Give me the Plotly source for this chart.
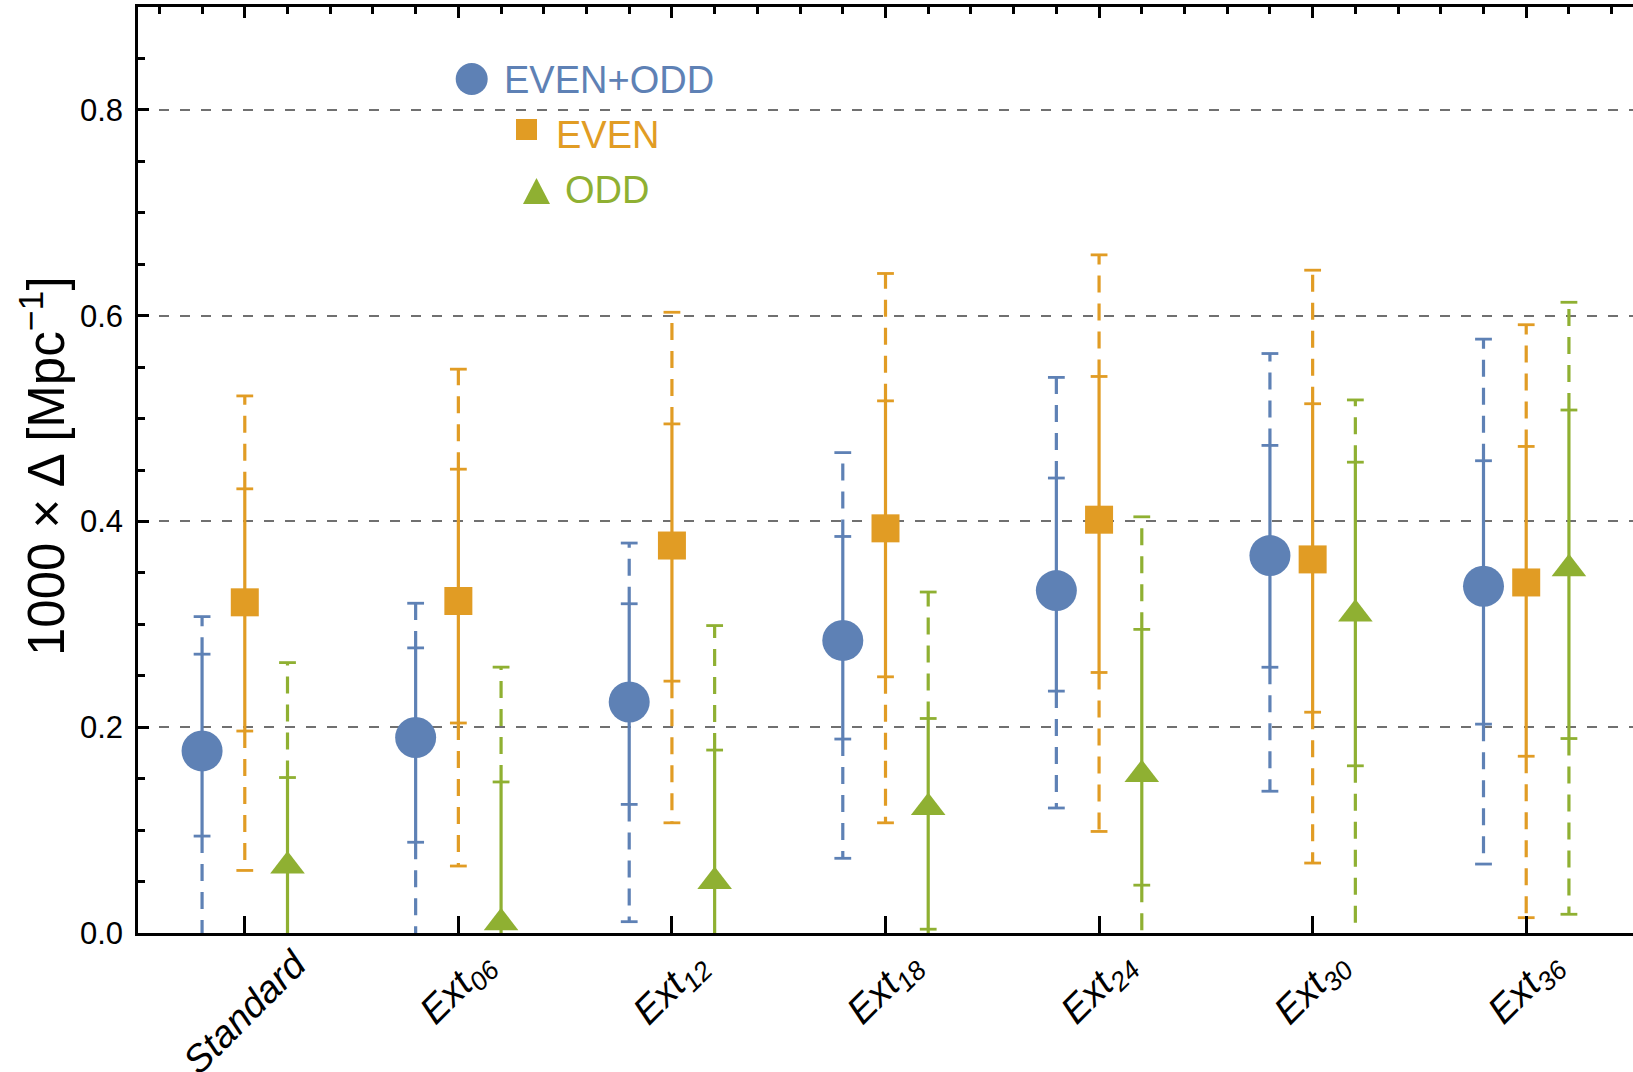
import plotly.graph_objects as go

# ---- data -----------------------------------------------------------------
tick_labels = ["Standard", "Ext<sub>06</sub>", "Ext<sub>12</sub>", "Ext<sub>18</sub>",
               "Ext<sub>24</sub>", "Ext<sub>30</sub>", "Ext<sub>36</sub>"]
series_names = ["EVEN+ODD", "EVEN", "ODD"]

# EVEN+ODD
eo_val = [0.177, 0.190, 0.2245, 0.2844, 0.3328, 0.3668, 0.337]
eo_in_lo = [0.0942, 0.0882, 0.125, 0.1885, 0.2351, 0.2583, 0.203]
eo_in_hi = [0.271, 0.2771, 0.320, 0.3854, 0.4422, 0.4739, 0.459]
eo_out_lo = [-0.02, -0.02, 0.011, 0.0726, 0.1215, 0.1378, 0.067]
eo_out_hi = [0.3075, 0.3205, 0.379, 0.4669, 0.540, 0.5632, 0.5772]

# EVEN
ev_val = [0.3214, 0.3227, 0.3766, 0.3933, 0.4017, 0.3631, 0.3407]
ev_in_lo = [0.1963, 0.2041, 0.2448, 0.249, 0.2532, 0.2146, 0.1718]
ev_in_hi = [0.4317, 0.4508, 0.4948, 0.5172, 0.5409, 0.5144, 0.4729]
ev_out_lo = [0.0608, 0.0651, 0.1071, 0.1071, 0.0987, 0.068, 0.0149]
ev_out_hi = [0.522, 0.548, 0.6033, 0.641, 0.6591, 0.6442, 0.5912]

# ODD
od_val = [0.065, 0.010, 0.050, 0.122, 0.154, 0.310, 0.354]
od_in_lo = [-0.02, -0.02, -0.02, 0.0037, 0.0465, 0.1625, 0.189]
od_in_hi = [0.1511, 0.1468, 0.1778, 0.2085, 0.2951, 0.4576, 0.5083]
od_out_lo = [-0.04, -0.04, -0.04, -0.02, -0.02, -0.02, 0.0182]
od_out_hi = [0.2628, 0.2584, 0.2988, 0.3314, 0.4045, 0.5181, 0.613]

# ---- style ----------------------------------------------------------------
W, H = 1633, 1072
ML, MR, MT, MB = 138, 0, 7, 139
FONT = "Liberation Sans, Arial, Helvetica, sans-serif"
BLUE, ORANGE, GREEN = "#5E81B5", "#E19C24", "#8FB032"
DASH = "17px,11px"
LW = 3.2

series = [
    dict(name=series_names[0], color=BLUE, symbol="circle", size=41, off=-0.2,
         val=eo_val, ilo=eo_in_lo, ihi=eo_in_hi, olo=eo_out_lo, ohi=eo_out_hi),
    dict(name=series_names[1], color=ORANGE, symbol="square", size=28, off=0.0,
         val=ev_val, ilo=ev_in_lo, ihi=ev_in_hi, olo=ev_out_lo, ohi=ev_out_hi),
    dict(name=series_names[2], color=GREEN, symbol="triangle-up", size=30, off=0.2,
         val=od_val, ilo=od_in_lo, ihi=od_in_hi, olo=od_out_lo, ohi=od_out_hi),
]

fig = go.Figure()

for s in series:
    xs = [i + s["off"] for i in range(len(s["val"]))]
    # dashed outer parts of the error bars
    dx, dy = [], []
    for x, olo, ilo, ihi, ohi in zip(xs, s["olo"], s["ilo"], s["ihi"], s["ohi"]):
        dx += [x, x, None, x, x, None]
        dy += [ilo, olo, None, ihi, ohi, None]
    fig.add_trace(go.Scatter(x=dx, y=dy, mode="lines", showlegend=False, hoverinfo="skip",
                             line=dict(color=s["color"], width=LW, dash=DASH)))
    # solid inner parts
    sx, sy = [], []
    for x, ilo, ihi in zip(xs, s["ilo"], s["ihi"]):
        sx += [x, x, None]
        sy += [ilo, ihi, None]
    fig.add_trace(go.Scatter(x=sx, y=sy, mode="lines", showlegend=False, hoverinfo="skip",
                             line=dict(color=s["color"], width=LW)))
    # caps at the ends of both intervals
    cx = xs * 4
    cy = s["olo"] + s["ilo"] + s["ihi"] + s["ohi"]
    fig.add_trace(go.Scatter(x=cx, y=cy, mode="markers", showlegend=False, hoverinfo="skip",
                             marker=dict(symbol="line-ew", size=12,
                                         line=dict(color=s["color"], width=2.8))))

for s in series:
    xs = [i + s["off"] for i in range(len(s["val"]))]
    fig.add_trace(go.Scatter(x=xs, y=s["val"], mode="markers", name=s["name"],
                             showlegend=False, cliponaxis=False,
                             marker=dict(symbol=s["symbol"], size=s["size"], color=s["color"],
                                         line=dict(width=0))))

# invisible trace carrying the top frame axis
fig.add_trace(go.Scatter(x=[None], y=[None], xaxis="x2", showlegend=False, hoverinfo="skip"))

# ---- helpers for placing legend items in pixels ---------------------------
PW, PH = W - ML - MR, H - MT - MB


def px(xp):
    return (xp - ML) / PW


def py(yp):
    return (H - MB - yp) / PH


shapes = []
annotations = []

# legend
shapes.append(dict(type="circle", xref="paper", yref="paper",
                   x0=px(471.7 - 16), x1=px(471.7 + 16), y0=py(79 + 16), y1=py(79 - 16),
                   fillcolor=BLUE, line=dict(width=0)))
shapes.append(dict(type="rect", xref="paper", yref="paper",
                   x0=px(516), x1=px(537), y0=py(140), y1=py(119),
                   fillcolor=ORANGE, line=dict(width=0)))
shapes.append(dict(type="path", xref="paper", yref="paper",
                   path=f"M {px(523)},{py(204)} L {px(550)},{py(204)} L {px(536.5)},{py(178)} Z",
                   fillcolor=GREEN, line=dict(width=0)))
for text, color, xl, yc in [(series_names[0], BLUE, 502, 79.5),
                            (series_names[1], ORANGE, 554, 134.5),
                            (series_names[2], GREEN, 563, 190)]:
    annotations.append(dict(text=text, xref="paper", yref="paper", x=px(xl), y=py(yc),
                            xanchor="left", yanchor="middle", showarrow=False,
                            font=dict(family=FONT, size=38, color=color)))

# category labels below the axis, rotated
for i, lab in enumerate(tick_labels):
    annotations.append(dict(text=f"<i>{lab}</i>", xref="x", yref="paper", x=i, y=0,
                            xanchor="center", yanchor="top", yshift=-6, textangle=-45,
                            showarrow=False, font=dict(family=FONT, size=38, color="black")))

# y-axis title
annotations.append(dict(text="1000 × Δ [Mpc<sup>−1</sup>]", xref="paper", yref="paper",
                        x=px(43), y=py(466), xanchor="center", yanchor="middle",
                        textangle=-90, showarrow=False,
                        font=dict(family=FONT, size=51, color="black")))

fig.update_layout(
    width=W, height=H,
    margin=dict(l=ML, r=MR, t=MT, b=MB, pad=0),
    paper_bgcolor="white", plot_bgcolor="white",
    font=dict(family=FONT, color="black"),
    showlegend=False,
    shapes=shapes,
    annotations=annotations,
    xaxis=dict(range=[-0.5, 6.5], tickvals=list(range(len(tick_labels))),
               showticklabels=False, ticks="inside", ticklen=17, tickwidth=2.5,
               tickcolor="black", showline=True, linewidth=2.5, linecolor="black",
               showgrid=False, zeroline=False, mirror=False),
    xaxis2=dict(range=[-0.5, 6.5], overlaying="x", side="top",
                tickvals=list(range(len(tick_labels))), showticklabels=False,
                ticks="inside", ticklen=11, tickwidth=2.5, tickcolor="black",
                minor=dict(tick0=0, dtick=0.2, ticks="inside", ticklen=7,
                           tickwidth=2.5, tickcolor="black", showgrid=False),
                showline=True, linewidth=2.5, linecolor="black",
                showgrid=False, zeroline=False),
    yaxis=dict(range=[0, 0.9], tick0=0, dtick=0.2, tickformat=".1f",
               ticks="inside", ticklen=11, tickwidth=2.5, tickcolor="black",
               minor=dict(tick0=0, dtick=0.05, ticks="inside", ticklen=7,
                          tickwidth=2.5, tickcolor="black", showgrid=False),
               showline=True, linewidth=2.5, linecolor="black", mirror=False,
               showgrid=True, gridcolor="#707070", gridwidth=1.8, griddash="10px,11px",
               zeroline=False, tickfont=dict(family=FONT, size=31, color="black"),
               ticklabelstandoff=6),
)

fig.write_html("out.html")
